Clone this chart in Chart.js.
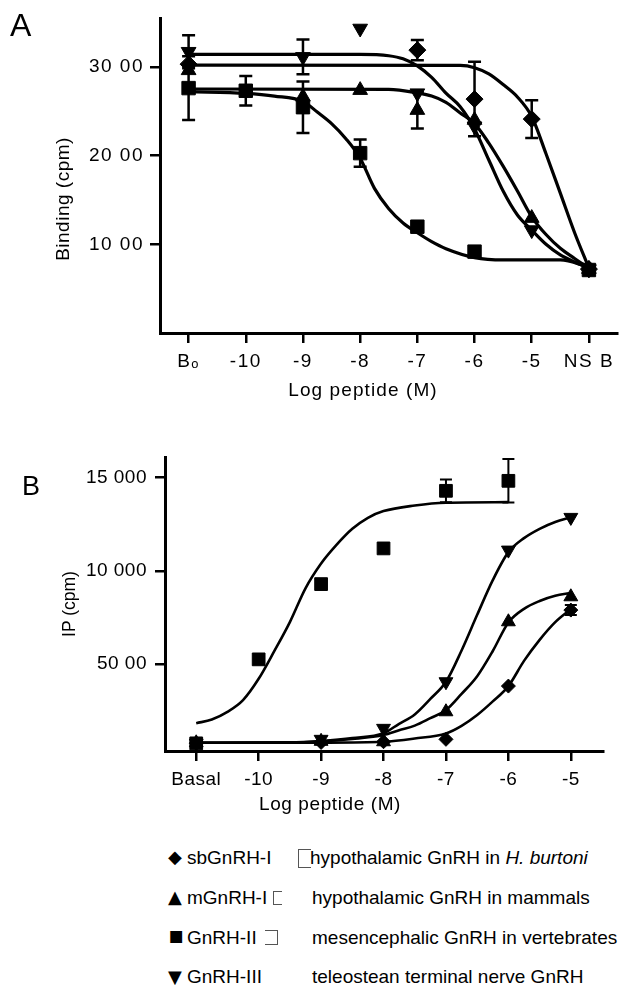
<!DOCTYPE html>
<html><head><meta charset="utf-8">
<script src="https://cdn.jsdelivr.net/npm/chart.js@4.4.1/dist/chart.umd.min.js"></script>
<style>
html,body{margin:0;padding:0;background:#fff;}
body{width:628px;height:998px;position:relative;overflow:hidden;font-family:"Liberation Sans",Arial,sans-serif;color:#000;}
canvas{position:absolute;left:0;}
.t{position:absolute;white-space:nowrap;font-size:19px;line-height:19px;}
.rot{transform:translate(-50%,-50%) rotate(-90deg);}
.sym{position:absolute;font-family:"DejaVu Sans",sans-serif;font-size:18px;line-height:18px;}
.tofu{position:absolute;border-color:#555;border-style:solid;border-width:0;}
</style></head><body>
<canvas id="cA" width="628" height="400" style="top:0px"></canvas>
<canvas id="cB" width="628" height="400" style="top:430px"></canvas>

<div class="t" style="left:10px;top:9px;font-size:32px;line-height:32px;">A</div>
<div class="t" style="left:22px;top:473px;font-size:27px;line-height:27px;">B</div>

<div class="t rot" style="left:62px;top:199px;letter-spacing:0.5px;">Binding (cpm)</div>
<div class="t" style="left:363px;top:380px;transform:translateX(-50%);letter-spacing:1.1px;">Log peptide (M)</div>
<div class="t rot" style="left:69px;top:604px;font-size:17.5px;">IP (cpm)</div>
<div class="t" style="left:330px;top:794px;transform:translateX(-50%);letter-spacing:0.6px;">Log peptide (M)</div>

<div class="sym" style="left:168px;top:848px;">◆</div>
<div class="t" style="left:187px;top:848px;">sbGnRH-I</div>
<div class="tofu" style="left:298px;top:849px;width:12px;height:17px;border-left-width:1.5px;border-top-width:1.5px;border-bottom-width:1.5px;"></div>
<div class="t" style="left:310px;top:848px;">hypothalamic GnRH in <i>H. burtoni</i></div>

<div class="sym" style="left:168px;top:888px;">▲</div>
<div class="t" style="left:187px;top:888px;">mGnRH-I</div>
<div class="tofu" style="left:273px;top:891px;width:8px;height:12px;border-left-width:1.5px;border-top-width:1.5px;border-bottom-width:1.5px;"></div>
<div class="t" style="left:312px;top:888px;">hypothalamic GnRH in mammals</div>

<div class="sym" style="left:169px;top:929px;font-size:15.5px;line-height:15.5px;">■</div>
<div class="t" style="left:187px;top:928px;">GnRH-II</div>
<div class="tofu" style="left:265px;top:930px;width:12px;height:13px;border-right-width:1.5px;border-top-width:1.5px;border-bottom-width:1.5px;"></div>
<div class="t" style="left:312px;top:928px;">mesencephalic GnRH in vertebrates</div>

<div class="sym" style="left:168px;top:968px;">▼</div>
<div class="t" style="left:187px;top:967px;">GnRH-III</div>
<div class="t" style="left:312px;top:967px;">teleostean terminal nerve GnRH</div>

<script>
// ---------- Panel A : binding ----------
const A_X_TICKS = [-11, -10, -9, -8, -7, -6, -5, -4];
const A_X_LABELS = ['B\u2092', '-10', '-9', '-8', '-7', '-6', '-5', 'NS B'];
const A_Y_TICKS = [1000, 2000, 3000];
const A_Y_LABELS = ['10 00', '20 00', '30 00'];

// markers (log M, cpm) and error half-widths
const A_SB_X = [-11, -7, -6, -5, -4];
const A_SB_Y = [3030, 3188, 2636, 2411, 720];
const A_SB_ERR = [0, 115, 420, 212, 0];
const A_M_X = [-11, -9, -8, -7, -6, -5, -4];
const A_M_Y = [2960, 2662, 2737, 2512, 2400, 1295, 720];
const A_M_ERR = [0, 0, 0, 206, 0, 0, 0];
const A_II_X = [-11, -10, -9, -8, -7, -6, -4];
const A_II_Y = [2760, 2730, 2545, 2027, 1198, 917, 710];
const A_II_ERR = [360, 165, 290, 153, 0, 0, 0];
const A_III_X = [-11, -9, -8, -7, -6, -5, -4];
const A_III_Y = [3170, 3112, 3432, 2703, 2330, 1160, 720];
const A_III_ERR = [187, 196, 0, 0, 0, 0, 0];

// fitted curves
const A_SB_FIT_X = [-11, -6.25, -6, -5.75, -5.5, -5.25, -5, -4.75, -4.5, -4.25, -4];
const A_SB_FIT_Y = [3020, 3015, 2990, 2920, 2800, 2660, 2440, 2020, 1576, 1130, 732];
const A_M_FIT_X = [-11, -7.5, -7, -6.75, -6.5, -6.25, -6, -5.75, -5.5, -5.25, -5, -4.75, -4.5, -4.25, -4];
const A_M_FIT_Y = [2750, 2745, 2705, 2670, 2600, 2480, 2360, 2140, 1880, 1600, 1310, 1110, 955, 840, 732];
const A_II_FIT_X = [-11, -10, -9.5, -9, -8.75, -8.5, -8.25, -8, -7.75, -7.5, -7.25, -7, -6.75, -6.5, -6, -5.5, -4.5, -4];
const A_II_FIT_Y = [2720, 2700, 2670, 2610, 2490, 2360, 2190, 1970, 1630, 1400, 1240, 1130, 1030, 950, 850, 823, 823, 743];
const A_III_FIT_X = [-11, -8, -7.5, -7.25, -7, -6.75, -6.5, -6.25, -6, -5.75, -5.5, -5.25, -5, -4.75, -4.5, -4.25, -4];
const A_III_FIT_Y = [3140, 3140, 3125, 3090, 3010, 2880, 2703, 2550, 2300, 1950, 1600, 1330, 1160, 1000, 880, 800, 732];

// ---------- Panel B : IP accumulation ----------
const B_X_TICKS = [-11, -10, -9, -8, -7, -6, -5];
const B_X_LABELS = ['Basal', '-10', '-9', '-8', '-7', '-6', '-5'];
const B_Y_TICKS = [5000, 10000, 15000];
const B_Y_LABELS = ['50 00', '10 000', '15 000'];

const B_SB_X = [-11, -9, -8, -7, -6, -5];
const B_SB_Y = [760, 800, 836, 965, 3821, 7894];
const B_SB_ERR = [0, 0, 0, 0, 0, 270];
const B_M_X = [-11, -9, -8, -7, -6, -5];
const B_M_Y = [780, 860, 836, 2444, 7267, 8607];
const B_II_X = [-11, -10, -9, -8, -7, -6];
const B_II_Y = [750, 5252, 9287, 11200, 14288, 14823];
const B_II_ERR = [0, 0, 0, 0, 610, 1165];
const B_III_X = [-11, -9, -8, -7, -6, -5];
const B_III_Y = [760, 965, 1554, 4052, 11109, 12862];

const B_SB_FIT_X = [-11, -9, -8, -7.5, -7, -6.75, -6.5, -6.25, -6, -5.75, -5.5, -5.25, -5];
const B_SB_FIT_Y = [780, 790, 836, 1010, 1280, 1690, 2270, 3000, 3820, 5170, 6300, 7250, 7950];
const B_M_FIT_X = [-11, -9.5, -9, -8.5, -8, -7.75, -7.5, -7.25, -7, -6.75, -6.5, -6.25, -6, -5.75, -5.5, -5.25, -5];
const B_M_FIT_Y = [780, 790, 850, 980, 1195, 1450, 1700, 2100, 2530, 3400, 4350, 5700, 7230, 7960, 8380, 8660, 8810];
const B_II_FIT_X = [-11, -10.75, -10.5, -10.25, -10, -9.75, -9.5, -9.25, -9, -8.75, -8.5, -8.25, -8, -7.5, -7, -6];
const B_II_FIT_Y = [1830, 2030, 2440, 3070, 4210, 5690, 7250, 9060, 10390, 11400, 12250, 12840, 13200, 13500, 13650, 13680];
const B_III_FIT_X = [-11, -9.5, -9, -8.5, -8, -7.75, -7.5, -7.25, -7, -6.75, -6.5, -6.25, -6, -5.75, -5.5, -5.25, -5];
const B_III_FIT_Y = [780, 800, 880, 1030, 1290, 1800, 2300, 3130, 4050, 5730, 7640, 9500, 11000, 11750, 12250, 12620, 12860];

// ---------- helpers ----------
Chart.defaults.font.family = 'Liberation Sans';
Chart.defaults.color = '#000';

function pts(xs, ys) { return xs.map((x, i) => ({ x: x, y: ys[i] })); }
function fitSet(xs, ys, w) {
  return { data: pts(xs, ys), showLine: true, pointRadius: 0, pointHoverRadius: 0,
    borderColor: '#000', borderWidth: w, cubicInterpolationMode: 'monotone', fill: false };
}
function markSet(xs, ys, style, r, rot, errs) {
  return { data: pts(xs, ys), showLine: false, pointStyle: style, pointRadius: r, pointHoverRadius: r,
    pointRotation: rot || 0, pointBackgroundColor: '#000', pointBorderColor: '#000', pointBorderWidth: 1,
    errors: errs || null };
}
const errorBars = {
  id: 'errorBars',
  afterDatasetsDraw(chart, args, opts) {
    const ctx = chart.ctx, xs = chart.scales.x, ys = chart.scales.y;
    ctx.save();
    ctx.strokeStyle = '#000';
    ctx.lineWidth = opts.width;
    chart.data.datasets.forEach(ds => {
      if (!ds.errors) return;
      ds.data.forEach((p, i) => {
        const e = ds.errors[i];
        if (!e) return;
        const x = xs.getPixelForValue(p.x);
        const y1 = ys.getPixelForValue(p.y + e), y2 = ys.getPixelForValue(p.y - e);
        ctx.beginPath();
        ctx.moveTo(x, y1); ctx.lineTo(x, y2);
        ctx.moveTo(x - opts.cap, y1); ctx.lineTo(x + opts.cap, y1);
        ctx.moveTo(x - opts.cap, y2); ctx.lineTo(x + opts.cap, y2);
        ctx.stroke();
      });
    });
    ctx.restore();
  }
};
const spacing = {
  id: 'spacing',
  beforeDraw(chart, args, opts) { chart.ctx.letterSpacing = opts.value; }
};
function axisX(min, max, ticks, labels, h, pad) {
  return { type: 'linear', position: 'bottom', min: min, max: max,
    afterBuildTicks: s => { s.ticks = ticks.map(v => ({ value: v })); },
    afterFit: s => { s.height = h; },
    ticks: { autoSkip: false, maxRotation: 0, minRotation: 0, padding: pad, color: '#000',
      font: { family: 'Liberation Sans', size: 19, lineHeight: 1.2 }, callback: (v, i) => labels[i] },
    grid: { drawOnChartArea: false, drawTicks: true, tickLength: 10, tickWidth: 2.5, color: '#000', lineWidth: 2.5 },
    border: { display: true, color: '#000', width: 3 } };
}
function axisY(min, max, ticks, labels, w, pad) {
  return { type: 'linear', position: 'left', min: min, max: max,
    afterBuildTicks: s => { s.ticks = ticks.map(v => ({ value: v })); },
    afterFit: s => { s.width = w; },
    ticks: { padding: pad, color: '#000',
      font: { family: 'Liberation Sans', size: 19, lineHeight: 1.2 }, callback: (v, i) => labels[i] },
    grid: { drawOnChartArea: false, drawTicks: true, tickLength: 10, tickWidth: 2.5, color: '#000', lineWidth: 2.5 },
    border: { display: true, color: '#000', width: 3 } };
}

// ---------- Chart A ----------
new Chart(document.getElementById('cA'), {
  type: 'scatter',
  data: { datasets: [
    fitSet(A_SB_FIT_X, A_SB_FIT_Y, 3.2),
    fitSet(A_M_FIT_X, A_M_FIT_Y, 3.2),
    fitSet(A_II_FIT_X, A_II_FIT_Y, 3.2),
    fitSet(A_III_FIT_X, A_III_FIT_Y, 3.2),
    markSet(A_SB_X, A_SB_Y, 'rectRot', 8.5, 0, A_SB_ERR),
    markSet(A_M_X, A_M_Y, 'triangle', 8.5, 0, A_M_ERR),
    markSet(A_II_X, A_II_Y, 'rect', 9.5, 0, A_II_ERR),
    markSet(A_III_X, A_III_Y, 'triangle', 8.5, 180, A_III_ERR)
  ] },
  options: {
    responsive: false, animation: false, events: [], devicePixelRatio: 1,
    layout: { padding: { top: 18, right: 3, left: 0, bottom: 0 } },
    plugins: { legend: { display: false }, tooltip: { enabled: false },
      errorBars: { width: 2.5, cap: 6.5 }, spacing: { value: '1.5px' } },
    scales: {
      x: axisX(-11.5, -3.5, A_X_TICKS, A_X_LABELS, 67, 7),
      y: axisY(0, 3550, A_Y_TICKS, A_Y_LABELS, 160, 6)
    }
  },
  plugins: [errorBars, spacing]
});

// ---------- Chart B ----------
new Chart(document.getElementById('cB'), {
  type: 'scatter',
  data: { datasets: [
    fitSet(B_SB_FIT_X, B_SB_FIT_Y, 2.6),
    fitSet(B_M_FIT_X, B_M_FIT_Y, 2.6),
    fitSet(B_II_FIT_X, B_II_FIT_Y, 2.6),
    fitSet(B_III_FIT_X, B_III_FIT_Y, 2.6),
    markSet(B_SB_X, B_SB_Y, 'rectRot', 7, 0, B_SB_ERR),
    markSet(B_M_X, B_M_Y, 'triangle', 8, 0, null),
    markSet(B_II_X, B_II_Y, 'rect', 9, 0, B_II_ERR),
    markSet(B_III_X, B_III_Y, 'triangle', 8, 180, null)
  ] },
  options: {
    responsive: false, animation: false, events: [], devicePixelRatio: 1,
    layout: { padding: { top: 27, right: 24.7, left: 0, bottom: 0 } },
    plugins: { legend: { display: false }, tooltip: { enabled: false },
      errorBars: { width: 2, cap: 6 }, spacing: { value: '0.5px' } },
    scales: {
      x: axisX(-11.5, -4.48, B_X_TICKS, B_X_LABELS, 79, 7.5),
      y: axisY(340, 16100, B_Y_TICKS, B_Y_LABELS, 165, 8)
    }
  },
  plugins: [errorBars, spacing]
});
</script>
</body></html>
